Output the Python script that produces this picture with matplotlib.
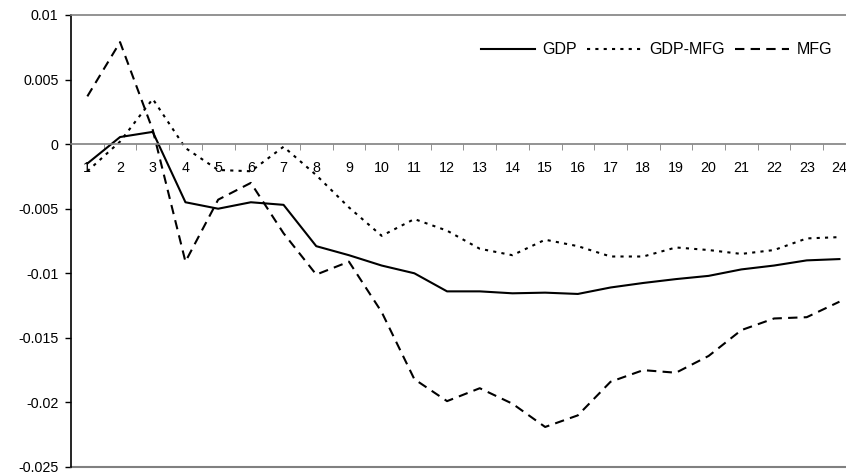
import numpy as np
import matplotlib.pyplot as plt

plt.rcParams['font.family'] = ['Liberation Sans', 'DejaVu Sans']
plt.rcParams['font.size'] = 10.3

periods = list(range(1, 25))
gdp = [-0.0015, 0.00055, 0.00095, -0.0045, -0.0050, -0.0045, -0.0047, -0.0079,
       -0.0086, -0.0094, -0.0100, -0.0114, -0.0114, -0.01155, -0.0115, -0.0116,
       -0.0111, -0.01075, -0.01045, -0.0102, -0.0097, -0.0094, -0.0090, -0.0089]
gdp_mfg = [-0.0021, 0.0002, 0.0035, -0.0003, -0.0020, -0.0021, -0.0002, -0.0024,
           -0.0049, -0.0071, -0.0058, -0.0067, -0.0081, -0.0086, -0.0074, -0.0079,
           -0.0087, -0.0087, -0.0080, -0.0082, -0.0085, -0.0082, -0.0073, -0.0072]
mfg = [0.0037, 0.0079, 0.0011, -0.0091, -0.0043, -0.0030, -0.0069, -0.0101,
       -0.0091, -0.0130, -0.0182, -0.0199, -0.0189, -0.0201, -0.0219, -0.0210,
       -0.0184, -0.0175, -0.0177, -0.0164, -0.0144, -0.0135, -0.0134, -0.0122]

fig = plt.figure(figsize=(8.46, 4.75), dpi=100)
ax = fig.add_axes([71 / 846, 8 / 475, 1 - 71 / 846, (467 - 15) / 475])

ax.plot(periods, gdp, color='black', lw=1.5, label='GDP')
ax.plot(periods, gdp_mfg, color='black', lw=1.5, linestyle=(0, (1.5, 2.5)), label='GDP-MFG')
ax.plot(periods, mfg, color='black', lw=1.5, linestyle=(0, (4.5, 3)), label='MFG')

ax.set_xlim(0.5, 0.5 + 775 / 32.7)
ax.set_ylim(-0.025, 0.01)
ax.set_yticks(np.arange(-0.025, 0.0101, 0.005))
ax.set_yticklabels(['-0.025', '-0.02', '-0.015', '-0.01', '-0.005', '0', '0.005', '0.01'])

# category labels under the zero line, tick marks between categories
ax.set_xticks(periods)
ax.set_xticklabels([str(p) for p in periods])
ax.set_xticks(np.arange(1.5, 24.5, 1), minor=True)
ax.tick_params(axis='x', which='major', length=0, pad=12)
ax.tick_params(axis='x', which='minor', length=4, color='#808080', direction='out')
ax.tick_params(axis='y', length=4, width=1, pad=5)

ax.spines['bottom'].set_position(('data', 0))
ax.spines['bottom'].set_color('#808080')
ax.spines['bottom'].set_linewidth(1.2)
ax.spines['top'].set_color('#808080')
ax.spines['top'].set_linewidth(1.2)
ax.spines['right'].set_visible(False)
ax.spines['left'].set_linewidth(1.2)
ax.axhline(-0.025, color='#808080', lw=1.5, clip_on=False)

ax.legend(loc='center right', bbox_to_anchor=(840 / 846, 1 - 50 / 475),
          bbox_transform=fig.transFigure, ncol=3, frameon=False, fontsize=11.5,
          handlelength=3.4, handletextpad=0.45, columnspacing=0.65, borderpad=0)

fig.savefig('out.png', dpi=100)
